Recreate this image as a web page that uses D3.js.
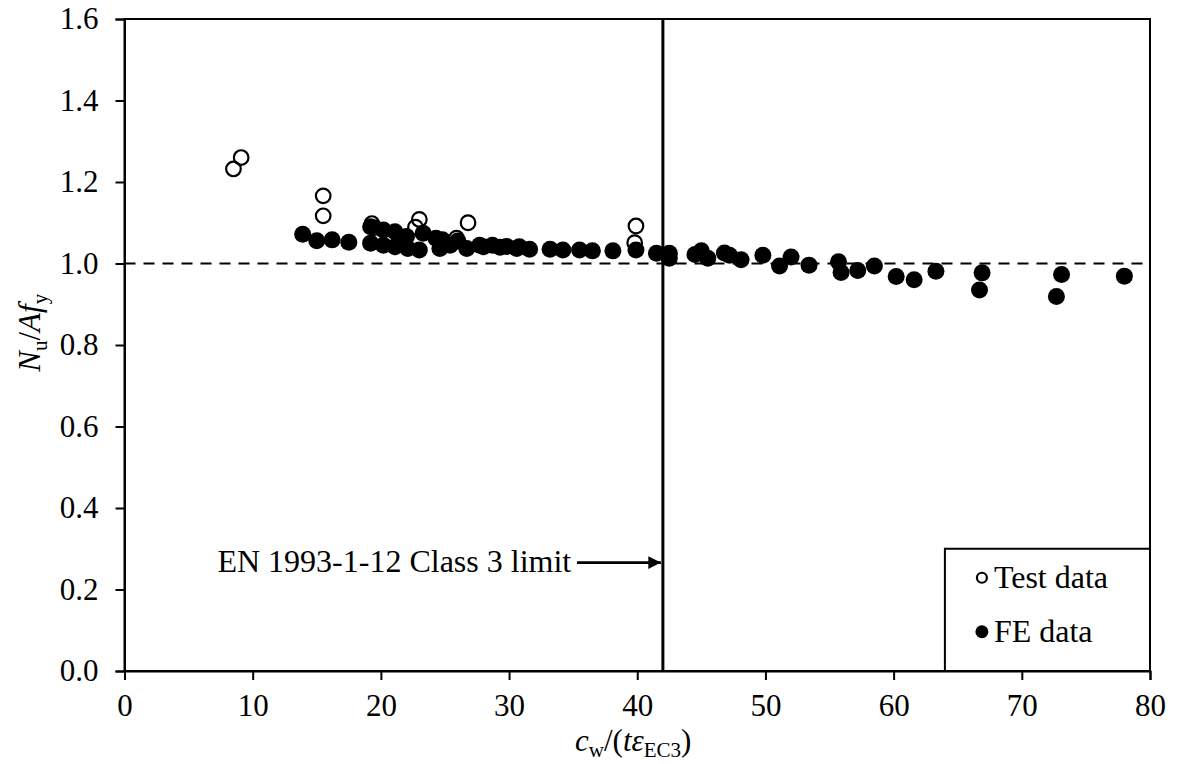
<!DOCTYPE html>
<html>
<head>
<meta charset="utf-8">
<script src="https://cdn.jsdelivr.net/npm/d3@7"></script>
<style>
    body { margin: 0; background: #fff; }
    text { font-family: "Liberation Serif", "Times New Roman", serif; fill: #000; }
</style>
</head>
<body>
<div id="chart"></div>
<script>
// Test data (open circles)
const testX = [8.5, 9.1, 15.5, 15.5, 19.3, 19.5, 22.7, 23.0, 25.9, 26.8, 39.8, 39.9];
const testY = [1.232, 1.260, 1.166, 1.117, 1.098, 1.088, 1.089, 1.108, 1.062, 1.100, 1.051, 1.092];

// FE data (filled circles)
const feX = [13.9, 15.0, 16.2, 17.5, 19.2, 19.2, 20.2, 20.2, 21.1, 21.1,
    22.0, 22.1, 23.3, 23.0, 24.3, 24.6, 24.8, 25.4, 26.0, 26.7,
    27.7, 28.0, 28.7, 29.3, 29.8, 30.6, 30.8, 31.6, 33.2, 34.2,
    35.5, 36.5, 38.1, 39.9, 41.5, 42.5, 42.5, 44.5, 45.0, 45.5,
    46.8, 47.2, 48.1, 49.8, 51.1, 52.0, 53.4, 55.7, 55.9, 57.2,
    58.5, 60.2, 61.6, 63.3, 66.9, 66.7, 73.1, 72.7, 78.0];
const feY = [1.072, 1.056, 1.058, 1.052, 1.090, 1.050, 1.082, 1.045, 1.078, 1.041,
    1.066, 1.037, 1.074, 1.033, 1.062, 1.037, 1.058, 1.045, 1.055, 1.037,
    1.045, 1.041, 1.045, 1.040, 1.042, 1.037, 1.041, 1.035, 1.035, 1.033,
    1.033, 1.031, 1.031, 1.033, 1.025, 1.025, 1.013, 1.022, 1.031, 1.013,
    1.026, 1.020, 1.009, 1.020, 0.994, 1.016, 0.996, 1.004, 0.978, 0.983,
    0.994, 0.968, 0.960, 0.981, 0.977, 0.935, 0.973, 0.919, 0.969];

const xTicks = [0, 10, 20, 30, 40, 50, 60, 70, 80];
const yTicks = [0.0, 0.2, 0.4, 0.6, 0.8, 1.0, 1.2, 1.4, 1.6];
const classLimit = 42;
const refLine = 1.0;
const limitLabel = "EN 1993-1-12 Class 3 limit";
const legendLabels = ["Test data", "FE data"];

const W = 1178, H = 764;
const margin = { top: 19, right: 28, bottom: 93, left: 124.5 };
const width = W - margin.left - margin.right;
const height = H - margin.top - margin.bottom;
const FS = 31;
const FS2 = 32;

const svg = d3.select("#chart").append("svg")
    .attr("width", W)
    .attr("height", H);

const g = svg.append("g")
    .attr("transform", `translate(${margin.left},${margin.top})`);

const x = d3.scaleLinear().domain([0, 80]).range([0, width]);
const y = d3.scaleLinear().domain([0, 1.6]).range([height, 0]);

// plot frame
g.append("rect")
    .attr("width", width)
    .attr("height", height)
    .attr("fill", "none")
    .attr("stroke", "#000")
    .attr("stroke-width", 2);

// axes
const xAxis = g.append("g")
    .attr("transform", `translate(0,${height})`)
    .call(d3.axisBottom(x).tickValues(xTicks).tickSize(9).tickPadding(14).tickFormat(d3.format("d")));
const yAxis = g.append("g")
    .call(d3.axisLeft(y).tickValues(yTicks).tickSize(9).tickPadding(17).tickFormat(d3.format(".1f")));

[xAxis, yAxis].forEach(a => {
    a.select(".domain").attr("stroke-width", 2);
    a.selectAll(".tick line").attr("stroke-width", 2);
    a.selectAll("text")
        .style("font-family", '"Liberation Serif", serif')
        .style("font-size", FS + "px")
        .attr("fill", "#000");
});

// dashed reference line at 1.0
g.append("line")
    .attr("x1", x(0)).attr("x2", x(80))
    .attr("y1", y(refLine)).attr("y2", y(refLine))
    .attr("stroke", "#000")
    .attr("stroke-width", 2)
    .attr("stroke-dasharray", "11 8");

// class 3 limit line
g.append("line")
    .attr("x1", x(classLimit)).attr("x2", x(classLimit))
    .attr("y1", 0).attr("y2", height)
    .attr("stroke", "#000")
    .attr("stroke-width", 3);

// FE points
g.selectAll(".fe")
    .data(feX.map((d, i) => [d, feY[i]]))
    .join("circle")
    .attr("class", "fe")
    .attr("cx", d => x(d[0]))
    .attr("cy", d => y(d[1]))
    .attr("r", 8.5)
    .attr("fill", "#000");

// test points
g.selectAll(".test")
    .data(testX.map((d, i) => [d, testY[i]]))
    .join("circle")
    .attr("class", "test")
    .attr("cx", d => x(d[0]))
    .attr("cy", d => y(d[1]))
    .attr("r", 7.3)
    .attr("fill", "none")
    .attr("stroke", "#000")
    .attr("stroke-width", 2.2);

// annotation + arrow
svg.append("defs").append("marker")
    .attr("id", "arrow")
    .attr("viewBox", "0 0 10 10")
    .attr("refX", 10).attr("refY", 5)
    .attr("markerWidth", 5).attr("markerHeight", 4.5)
    .attr("markerUnits", "strokeWidth")
    .attr("orient", "auto")
    .append("path")
    .attr("d", "M0,0L10,5L0,10Z")
    .attr("fill", "#000");

const annY = y(0.266);
g.append("line")
    .attr("x1", x(35.3)).attr("x2", x(classLimit) - 2)
    .attr("y1", annY).attr("y2", annY)
    .attr("stroke", "#000")
    .attr("stroke-width", 2.8)
    .attr("marker-end", "url(#arrow)");

g.append("text")
    .attr("x", x(34.85))
    .attr("y", annY + 9)
    .attr("text-anchor", "end")
    .style("font-size", FS2 + "px")
    .text(limitLabel);

// legend
const lg = g.append("g")
    .attr("transform", `translate(${x(64)},${y(0.3)})`);
lg.append("rect")
    .attr("width", x(80) - x(64))
    .attr("height", height - y(0.3))
    .attr("fill", "#fff")
    .attr("stroke", "#000")
    .attr("stroke-width", 2);

const legendRows = lg.selectAll(".legend-item")
    .data(legendLabels)
    .join("g")
    .attr("class", "legend-item")
    .attr("transform", (d, i) => `translate(37,${29 + i * 54})`);

legendRows.append("circle")
    .attr("r", d => d === "FE data" ? 6.5 : 5)
    .attr("fill", d => d === "FE data" ? "#000" : "#fff")
    .attr("stroke", "#000")
    .attr("stroke-width", d => d === "FE data" ? 0 : 2.2);

legendRows.append("text")
    .attr("x", 12)
    .attr("y", 10)
    .style("font-size", FS2 + "px")
    .text(d => d);

// y axis title: N_u / A f_y
const yTitle = svg.append("text")
    .attr("transform", `translate(40,${margin.top + y(0.83)}) rotate(-90)`)
    .attr("text-anchor", "middle")
    .style("font-size", FS + "px");
yTitle.append("tspan").style("font-style", "italic").text("N");
yTitle.append("tspan").attr("dy", 7).style("font-size", "21px").text("u");
yTitle.append("tspan").attr("dy", -7).text("/");
yTitle.append("tspan").style("font-style", "italic").text("Af");
yTitle.append("tspan").attr("dy", 7).style("font-size", "21px").text("y");

// x axis title: c_w / (t eps_EC3)
const xTitle = svg.append("text")
    .attr("x", margin.left + width / 2 - 4)
    .attr("y", 751)
    .attr("text-anchor", "middle")
    .style("font-size", FS + "px");
xTitle.append("tspan").style("font-style", "italic").text("c");
xTitle.append("tspan").attr("dy", 6).style("font-size", "21px").text("w");
xTitle.append("tspan").attr("dy", -6).text("/(");
xTitle.append("tspan").style("font-style", "italic").text("tε");
xTitle.append("tspan").attr("dy", 6).style("font-size", "21px").text("EC3");
xTitle.append("tspan").attr("dy", -6).text(")");
</script>
</body>
</html>
